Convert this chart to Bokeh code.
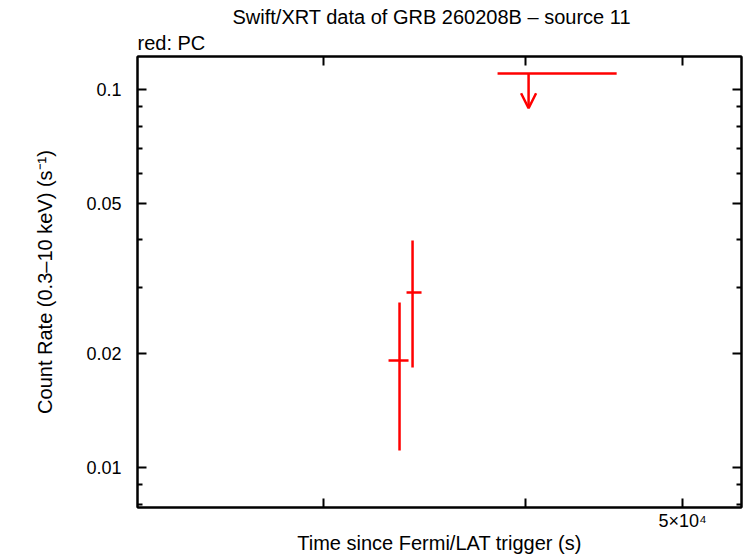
from bokeh.plotting import figure
from bokeh.models import (LogAxis, FixedTicker, CustomJSTickFormatter, Range1d,
                          Title, Arrow, OpenHead, ColumnDataSource)
from bokeh.embed import file_html
from bokeh.resources import INLINE

# ---- data ----
t = [33422, 34047]
t_lo = [32903, 33757]
t_hi = [33853, 34485]
rate = [0.01919, 0.02904]
rate_lo = [0.01109, 0.01839]
rate_hi = [0.02732, 0.03986]

ul_t = [40159]
ul_t_lo = [38425]
ul_t_hi = [45521]
ul_rate = [0.1102]

x_ticks = [30000, 40000, 50000]
y_ticks = [0.01, 0.02, 0.05, 0.1]
y_minor = [0.008, 0.009, 0.03, 0.04, 0.06, 0.07, 0.08, 0.09]

title_text = "Swift/XRT data of GRB 260208B \u2013 source 11"
legend_text = "red: PC"
x_label = "Time since Fermi/LAT trigger (s)"
y_label = "Count Rate (0.3\u201310 keV) (s\u207b\u00b9)"

FONT = "Liberation Sans"
RED = "#ff0000"

p = figure(width=746, height=558, x_axis_type="log", y_axis_type="log",
           x_range=Range1d(23020, 54370), y_range=Range1d(0.00784, 0.1223),
           toolbar_location=None, output_backend="svg",
           min_border_left=137, min_border_right=5, min_border_top=56, min_border_bottom=51)
p.grid.visible = False
p.background_fill_color = "white"
p.border_fill_color = "white"
p.outline_line_color = "black"
p.outline_line_width = 2

xfmt = CustomJSTickFormatter(code="return Math.abs(tick - 50000) < 1 ? '5\u00d710\u2074' : '';")
yfmt = CustomJSTickFormatter(code="return tick.toString();")
blank = CustomJSTickFormatter(code="return '';")

def style(ax, labels=True):
    ax.axis_line_color = "black"
    ax.axis_line_width = 2
    ax.major_tick_line_color = "black"
    ax.major_tick_line_width = 2
    ax.minor_tick_line_color = "black"
    ax.minor_tick_line_width = 2
    ax.major_tick_in = 9
    ax.major_tick_out = 0
    ax.minor_tick_in = 5
    ax.minor_tick_out = 0
    if labels:
        ax.major_label_text_font = FONT
        ax.major_label_text_font_size = "18px"
        ax.major_label_text_color = "black"
        ax.axis_label_text_font = FONT
        ax.axis_label_text_font_size = "20px"
        ax.axis_label_text_font_style = "normal"
        ax.axis_label_text_color = "black"
    else:
        ax.major_label_text_font_size = "0px"
        ax.major_label_standoff = 0

xb = p.xaxis[0]
xb.ticker = FixedTicker(ticks=x_ticks, minor_ticks=[])
xb.formatter = xfmt
style(xb)
xb.major_label_standoff = 3
xb.axis_label = x_label
xb.axis_label_standoff = -2

yl = p.yaxis[0]
yl.ticker = FixedTicker(ticks=y_ticks, minor_ticks=y_minor)
yl.formatter = yfmt
style(yl)
yl.major_label_standoff = 16
yl.axis_label = y_label
yl.axis_label_standoff = 27

xt = LogAxis(ticker=FixedTicker(ticks=x_ticks, minor_ticks=[]), formatter=blank)
style(xt, labels=False)
p.add_layout(xt, "above")
yr = LogAxis(ticker=FixedTicker(ticks=y_ticks, minor_ticks=y_minor), formatter=blank)
style(yr, labels=False)
p.add_layout(yr, "right")

# ---- titles ----
p.add_layout(Title(text=legend_text, align="left", text_font=FONT, text_font_size="20px",
                   text_font_style="normal", text_color="black", standoff=5), "above")
p.title.text = title_text
p.title.align = "left"
p.title.offset = 95
p.title.text_font = FONT
p.title.text_font_size = "20px"
p.title.text_font_style = "normal"
p.title.text_color = "black"
p.title.standoff = 0

# ---- data glyphs ----
src = ColumnDataSource(dict(t=t, t_lo=t_lo, t_hi=t_hi, rate=rate, rate_lo=rate_lo, rate_hi=rate_hi))
p.segment(x0="t_lo", y0="rate", x1="t_hi", y1="rate", source=src, line_color=RED, line_width=2.5)
p.segment(x0="t", y0="rate_lo", x1="t", y1="rate_hi", source=src, line_color=RED, line_width=2.5)

ul_src = ColumnDataSource(dict(t=ul_t, t_lo=ul_t_lo, t_hi=ul_t_hi, rate=ul_rate,
                               tip=[r * 0.81 for r in ul_rate]))
p.segment(x0="t_lo", y0="rate", x1="t_hi", y1="rate", source=ul_src, line_color=RED, line_width=2.5)
p.add_layout(Arrow(x_start="t", y_start="rate", x_end="t", y_end="tip", source=ul_src,
                   line_color=RED, line_width=2.5,
                   end=OpenHead(size=15, line_color=RED, line_width=2.5)))

open("out.html", "w").write(file_html(p, INLINE))
